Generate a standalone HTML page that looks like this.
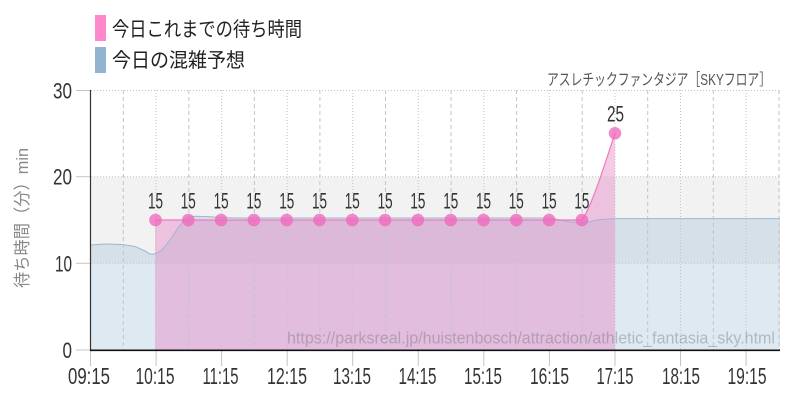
<!DOCTYPE html>
<html><head><meta charset="utf-8"><style>
html,body{margin:0;padding:0;background:#fff;}
svg{display:block;}
.num{font-family:"Liberation Sans Narrow","Liberation Sans",sans-serif;fill:#333;}
.jp{font-family:"Liberation Sans","Noto Sans CJK JP",sans-serif;}
</style></head><body>
<svg width="800" height="400" viewBox="0 0 800 400" xmlns="http://www.w3.org/2000/svg">
<rect x="0" y="0" width="800" height="400" fill="#fff"/>
<!-- legend -->
<rect x="95" y="15" width="11" height="26" fill="#ff88cc"/>
<rect x="95" y="47" width="11" height="26" fill="#92b4d0"/>
<text class="jp" x="112" y="36" font-size="20" fill="#222" textLength="190" lengthAdjust="spacingAndGlyphs">今日これまでの待ち時間</text>
<text class="jp" x="112" y="67" font-size="20" fill="#222" textLength="133" lengthAdjust="spacingAndGlyphs">今日の混雑予想</text>
<!-- title -->
<text class="jp" x="547" y="85" font-size="16" fill="#555" textLength="224" lengthAdjust="spacingAndGlyphs">アスレチックファンタジア［SKYフロア］</text>
<!-- band -->
<rect x="90.5" y="176.7" width="689.5" height="86.6" fill="#f2f2f2"/>
<!-- blue area -->
<path d="M90.5,245 L105,244 L122,244.5 L135,246.5 L145,251 L150,254 L155,254 L162,250 L170,240 L178,228 L186,218 L195,216.3 L210,216.8 L221,217.6 L240,218 L549,218 L558,219.5 L570,222 L582,222.8 L590,221.5 L600,219.5 L615,218.6 L780,218.6 L780,350 L90.5,350 Z" fill="rgba(143,179,210,0.29)"/>
<!-- pink area -->
<path d="M155,220 L582,220 C592,205 603,170 615,133 L615,350 L155,350 Z" fill="rgba(232,128,196,0.42)"/>
<!-- blue line -->
<path d="M90.5,245 L105,244 L122,244.5 L135,246.5 L145,251 L150,254 L155,254 L162,250 L170,240 L178,228 L186,218 L195,216.3 L210,216.8 L221,217.6 L240,218 L549,218 L558,219.5 L570,222 L582,222.8 L590,221.5 L600,219.5 L615,218.6 L780,218.6" fill="none" stroke="#9db6ce" stroke-width="1"/>
<!-- horizontal grid -->
<g stroke="#c4c4c4" stroke-width="1">
<line x1="91" y1="90.5" x2="780" y2="90.5" stroke-dasharray="1,2"/>
<line x1="91" y1="176.7" x2="780" y2="176.7" stroke-dasharray="1,2"/>
<line x1="91" y1="263.3" x2="780" y2="263.3" stroke-dasharray="1,2"/>
<line x1="76" y1="90.5" x2="90" y2="90.5"/>
<line x1="76" y1="176.7" x2="90" y2="176.7"/>
<line x1="76" y1="263.3" x2="90" y2="263.3"/>
<line x1="76" y1="350" x2="90" y2="350"/>
</g>
<!-- vertical grid -->
<g stroke="#c4c4c4" stroke-width="1">
<line x1="123.3" y1="90" x2="123.3" y2="350" stroke-dasharray="4,3"/>
<line x1="156.1" y1="90" x2="156.1" y2="350" stroke-dasharray="1,2"/>
<line x1="188.8" y1="90" x2="188.8" y2="350" stroke-dasharray="4,3"/>
<line x1="221.6" y1="90" x2="221.6" y2="350" stroke-dasharray="1,2"/>
<line x1="254.4" y1="90" x2="254.4" y2="350" stroke-dasharray="4,3"/>
<line x1="287.2" y1="90" x2="287.2" y2="350" stroke-dasharray="1,2"/>
<line x1="319.9" y1="90" x2="319.9" y2="350" stroke-dasharray="4,3"/>
<line x1="352.7" y1="90" x2="352.7" y2="350" stroke-dasharray="1,2"/>
<line x1="385.5" y1="90" x2="385.5" y2="350" stroke-dasharray="4,3"/>
<line x1="418.3" y1="90" x2="418.3" y2="350" stroke-dasharray="1,2"/>
<line x1="451.1" y1="90" x2="451.1" y2="350" stroke-dasharray="4,3"/>
<line x1="483.8" y1="90" x2="483.8" y2="350" stroke-dasharray="1,2"/>
<line x1="516.6" y1="90" x2="516.6" y2="350" stroke-dasharray="4,3"/>
<line x1="549.4" y1="90" x2="549.4" y2="350" stroke-dasharray="1,2"/>
<line x1="582.2" y1="90" x2="582.2" y2="350" stroke-dasharray="4,3"/>
<line x1="615" y1="90" x2="615" y2="350" stroke-dasharray="1,2"/>
<line x1="647.7" y1="90" x2="647.7" y2="350" stroke-dasharray="4,3"/>
<line x1="680.5" y1="90" x2="680.5" y2="350" stroke-dasharray="1,2"/>
<line x1="713.3" y1="90" x2="713.3" y2="350" stroke-dasharray="4,3"/>
<line x1="746.1" y1="90" x2="746.1" y2="350" stroke-dasharray="1,2"/>
<line x1="779" y1="90" x2="779" y2="350" stroke-dasharray="4,3"/>
</g>
<!-- x ticks -->
<g stroke="#c4c4c4" stroke-width="1">
<line x1="90.5" y1="350" x2="90.5" y2="366"/>
<line x1="156.1" y1="350" x2="156.1" y2="366"/>
<line x1="221.6" y1="350" x2="221.6" y2="366"/>
<line x1="287.2" y1="350" x2="287.2" y2="366"/>
<line x1="352.7" y1="350" x2="352.7" y2="366"/>
<line x1="418.3" y1="350" x2="418.3" y2="366"/>
<line x1="483.8" y1="350" x2="483.8" y2="366"/>
<line x1="549.4" y1="350" x2="549.4" y2="366"/>
<line x1="615" y1="350" x2="615" y2="366"/>
<line x1="680.5" y1="350" x2="680.5" y2="366"/>
<line x1="746.1" y1="350" x2="746.1" y2="366"/>
</g>
<!-- pink line -->
<path d="M155,220 L582,220 C592,205 603,170 615,133" fill="none" stroke="#f07ac0" stroke-width="1.2"/>
<!-- dots -->
<g fill="rgba(240,105,188,0.78)">
<circle cx="155.5" cy="220" r="6.3"/>
<circle cx="188.3" cy="220" r="6.3"/>
<circle cx="221.1" cy="220" r="6.3"/>
<circle cx="253.9" cy="220" r="6.3"/>
<circle cx="286.7" cy="220" r="6.3"/>
<circle cx="319.5" cy="220" r="6.3"/>
<circle cx="352.3" cy="220" r="6.3"/>
<circle cx="385.1" cy="220" r="6.3"/>
<circle cx="417.9" cy="220" r="6.3"/>
<circle cx="450.7" cy="220" r="6.3"/>
<circle cx="483.5" cy="220" r="6.3"/>
<circle cx="516.3" cy="220" r="6.3"/>
<circle cx="549.1" cy="220" r="6.3"/>
<circle cx="581.9" cy="220" r="6.3"/>
<circle cx="615" cy="133.3" r="6.3"/>
</g>
<!-- data labels -->
<g class="num" font-size="22.5" text-anchor="middle">
<text x="155.5" y="208.5" textLength="15" lengthAdjust="spacingAndGlyphs">15</text>
<text x="188.3" y="208.5" textLength="15" lengthAdjust="spacingAndGlyphs">15</text>
<text x="221.1" y="208.5" textLength="15" lengthAdjust="spacingAndGlyphs">15</text>
<text x="253.9" y="208.5" textLength="15" lengthAdjust="spacingAndGlyphs">15</text>
<text x="286.7" y="208.5" textLength="15" lengthAdjust="spacingAndGlyphs">15</text>
<text x="319.5" y="208.5" textLength="15" lengthAdjust="spacingAndGlyphs">15</text>
<text x="352.3" y="208.5" textLength="15" lengthAdjust="spacingAndGlyphs">15</text>
<text x="385.1" y="208.5" textLength="15" lengthAdjust="spacingAndGlyphs">15</text>
<text x="417.9" y="208.5" textLength="15" lengthAdjust="spacingAndGlyphs">15</text>
<text x="450.7" y="208.5" textLength="15" lengthAdjust="spacingAndGlyphs">15</text>
<text x="483.5" y="208.5" textLength="15" lengthAdjust="spacingAndGlyphs">15</text>
<text x="516.3" y="208.5" textLength="15" lengthAdjust="spacingAndGlyphs">15</text>
<text x="549.1" y="208.5" textLength="15" lengthAdjust="spacingAndGlyphs">15</text>
<text x="581.9" y="208.5" textLength="15" lengthAdjust="spacingAndGlyphs">15</text>
<text x="615.5" y="121.5" textLength="17" lengthAdjust="spacingAndGlyphs">25</text>
</g>
<!-- axes -->
<line x1="90.5" y1="90" x2="90.5" y2="350" stroke="#333" stroke-width="1.2"/>
<line x1="90" y1="350.3" x2="780" y2="350.3" stroke="#111" stroke-width="1.6"/>
<!-- y labels -->
<g class="num" font-size="22.5" text-anchor="end">
<text x="72" y="98.5" textLength="19" lengthAdjust="spacingAndGlyphs">30</text>
<text x="72" y="184.7" textLength="19" lengthAdjust="spacingAndGlyphs">20</text>
<text x="72" y="271.3" textLength="17" lengthAdjust="spacingAndGlyphs">10</text>
<text x="72" y="358" textLength="9.5" lengthAdjust="spacingAndGlyphs">0</text>
</g>
<!-- x labels -->
<g class="num" font-size="23.5" text-anchor="middle">
<text x="89" y="384" textLength="42" lengthAdjust="spacingAndGlyphs">09:15</text>
<text x="155" y="384" textLength="39" lengthAdjust="spacingAndGlyphs">10:15</text>
<text x="220.5" y="384" textLength="36" lengthAdjust="spacingAndGlyphs">11:15</text>
<text x="287" y="384" textLength="40" lengthAdjust="spacingAndGlyphs">12:15</text>
<text x="352" y="384" textLength="38" lengthAdjust="spacingAndGlyphs">13:15</text>
<text x="417.5" y="384" textLength="38" lengthAdjust="spacingAndGlyphs">14:15</text>
<text x="483" y="384" textLength="38" lengthAdjust="spacingAndGlyphs">15:15</text>
<text x="549.5" y="384" textLength="39" lengthAdjust="spacingAndGlyphs">16:15</text>
<text x="615" y="384" textLength="37" lengthAdjust="spacingAndGlyphs">17:15</text>
<text x="681" y="384" textLength="38" lengthAdjust="spacingAndGlyphs">18:15</text>
<text x="747" y="384" textLength="39" lengthAdjust="spacingAndGlyphs">19:15</text>
</g>
<!-- y title -->
<text class="jp" transform="translate(28,218) rotate(-90)" x="0" y="0" font-size="17" fill="#888" text-anchor="middle" textLength="140" lengthAdjust="spacingAndGlyphs">待ち時間（分）min</text>
<!-- watermark -->
<text x="287" y="343.5" font-family="Liberation Sans, sans-serif" font-size="17" fill="rgba(110,110,120,0.4)" textLength="488" lengthAdjust="spacingAndGlyphs">https://parksreal.jp/huistenbosch/attraction/athletic_fantasia_sky.html</text>
</svg>
</body></html>
